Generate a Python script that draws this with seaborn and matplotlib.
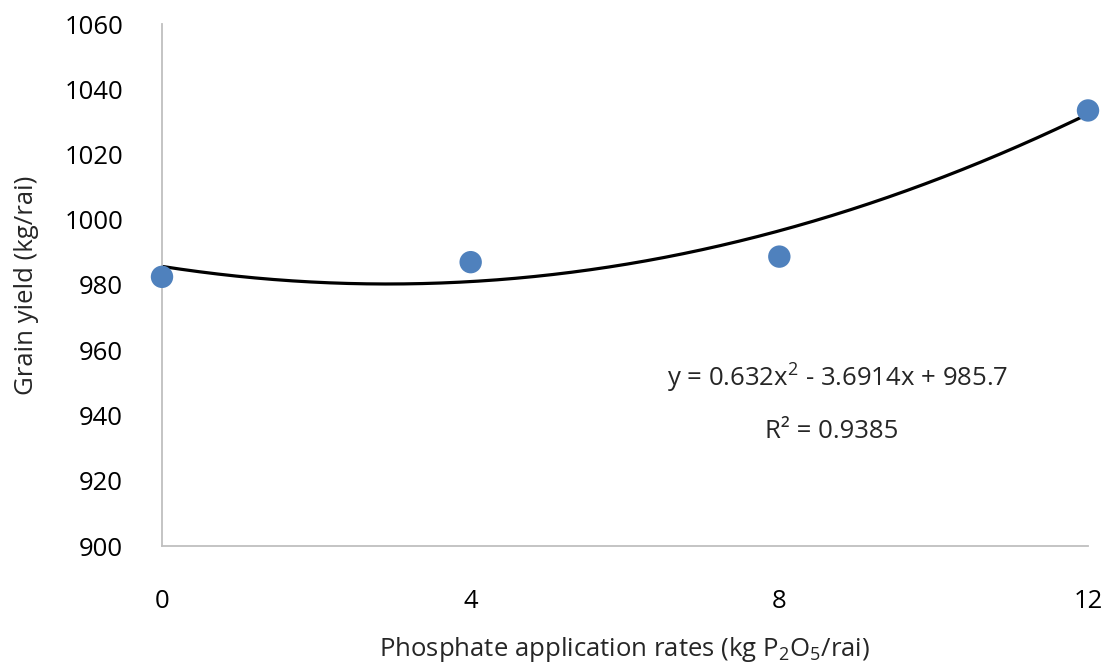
import numpy as np
import pandas as pd
import matplotlib
matplotlib.use("Agg")
import matplotlib.pyplot as plt
import seaborn as sns

# Data
rates = [0, 4, 8, 12]
yields = [982.5, 987.0, 988.7, 1033.5]
coef_a, coef_b, coef_c = 0.632, -3.6914, 985.7
eq_text = "y = 0.632x$^{2}$ - 3.6914x + 985.7"
r2_text = "R² = 0.9385"
y_ticks = [900, 920, 940, 960, 980, 1000, 1020, 1040, 1060]
x_ticks = [0, 4, 8, 12]

sns.set_theme(style="white")
plt.rcParams['font.family'] = ['Open Sans', 'DejaVu Sans']
plt.rcParams['mathtext.fontset'] = 'custom'
plt.rcParams['mathtext.rm'] = 'Open Sans'
plt.rcParams['mathtext.it'] = 'Open Sans'
plt.rcParams['mathtext.default'] = 'regular'

FS = 18.5

fig = plt.figure(figsize=(11.14, 6.66), dpi=100)
ax = fig.add_axes([162/1114, 1-546/666, (1088-162)/1114, (546-24)/666])

df = pd.DataFrame({"rate": rates, "yield": yields})
xs = np.linspace(0, 12, 200)
trend = pd.DataFrame({"rate": xs, "yield": coef_a*xs**2 + coef_b*xs + coef_c})

sns.lineplot(data=trend, x="rate", y="yield", ax=ax, color="black", linewidth=2.3, zorder=2)
sns.scatterplot(data=df, x="rate", y="yield", ax=ax, color="#4f81bd", s=260,
                edgecolor="none", zorder=3, clip_on=False)

ax.set_xlim(0, 12)
ax.set_ylim(900, 1060)
ax.set_xticks(x_ticks)
ax.set_yticks(y_ticks)
ax.tick_params(axis='both', length=0, labelsize=FS, colors="#000000")
ax.tick_params(axis='y', pad=28)
ax.tick_params(axis='x', pad=31)

for s in ['top', 'right']:
    ax.spines[s].set_visible(False)
for s in ['left', 'bottom']:
    ax.spines[s].set_color('#bfbfbf')
    ax.spines[s].set_linewidth(1.3)

ax.set_xlabel("Phosphate application rates (kg P$_2$O$_5$/rai)", fontsize=FS, labelpad=15)
ax.set_ylabel("Grain yield (kg/rai)", fontsize=FS, labelpad=18)

ax.text(8.76, 951.5, eq_text, ha='center', va='center', fontsize=FS)
ax.text(8.68, 935, r2_text, ha='center', va='center', fontsize=FS)

fig.savefig("out.png", dpi=100)
